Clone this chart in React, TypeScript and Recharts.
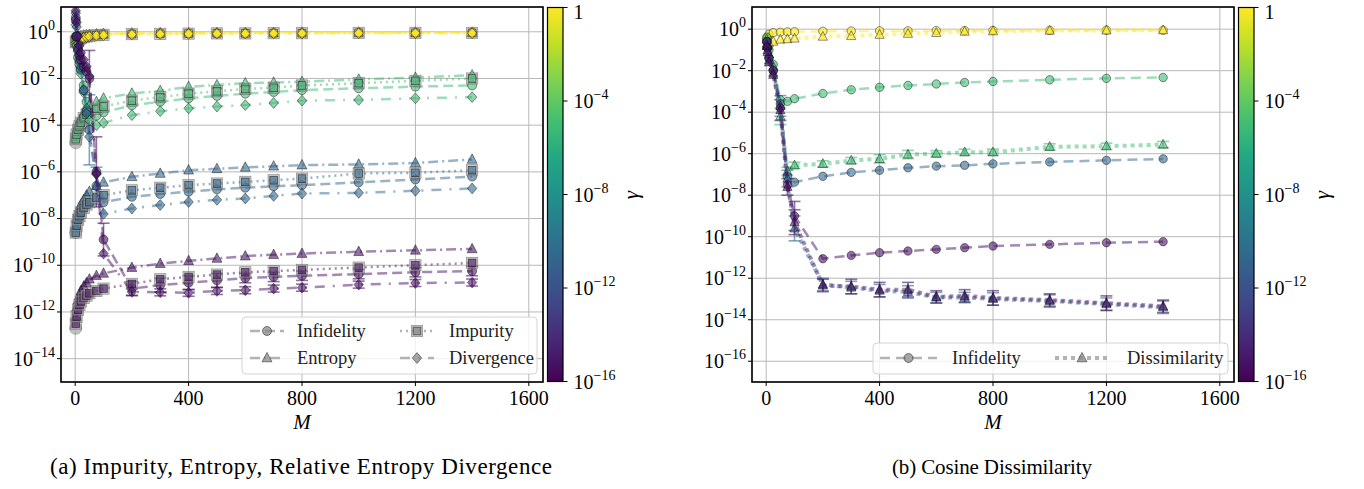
import React from 'react';
import { ComposedChart, Scatter, XAxis, YAxis, CartesianGrid, ErrorBar } from 'recharts';

const FONT = "'Liberation Serif', 'DejaVu Serif', serif";
const serif = { fontFamily: FONT };

// colour of each γ group (viridis on a 1e-16 … 1 log scale)
const gammaExp = [0, -5, -10, -15];
const groupColors = ['#fde725', '#3fbc73', '#31688e', '#471164'];

// ---------- panel (a): values are log10 ----------
const mLeft = [2, 5, 10, 15, 20, 30, 40, 50, 75, 100, 200, 300, 400, 500, 600, 700, 800, 1000, 1200, 1400];

const infA_0 = [-0.35, -0.3, -0.27, -0.24, -0.22, -0.19, -0.17, -0.15, -0.12, -0.1, -0.08, -0.07, -0.07, -0.06, -0.06, -0.05, -0.05, -0.04, -0.04, -0.03];
const entA_0 = [-0.3, -0.25, -0.22, -0.2, -0.18, -0.15, -0.13, -0.12, -0.1, -0.08, -0.06, -0.05, -0.05, -0.04, -0.04, -0.04, -0.03, -0.03, -0.03, -0.03];
const impA_0 = [-0.45, -0.4, -0.35, -0.3, -0.27, -0.23, -0.2, -0.18, -0.15, -0.13, -0.1, -0.09, -0.08, -0.07, -0.07, -0.06, -0.06, -0.05, -0.05, -0.05];
const divA_0 = [-0.5, -0.45, -0.4, -0.35, -0.3, -0.26, -0.23, -0.2, -0.17, -0.15, -0.12, -0.1, -0.09, -0.08, -0.08, -0.07, -0.07, -0.06, -0.06, -0.06];

const infA_1 = [-0.2, -0.6, -1.1, -1.4, -1.65, -2.3, -3.0, -3.5, -3.6, -3.45, -3.15, -3.0, -2.85, -2.75, -2.65, -2.58, -2.5, -2.42, -2.35, -2.3];
const entA_1 = [-4.4, -4.2, -4.0, -3.85, -3.7, -3.5, -3.3, -3.15, -3.0, -2.85, -2.64, -2.53, -2.36, -2.28, -2.2, -2.17, -2.14, -2.04, -1.96, -1.86];
const impA_1 = [-4.6, -4.4, -4.2, -4.05, -3.9, -3.7, -3.55, -3.45, -3.3, -3.2, -2.95, -2.8, -2.65, -2.55, -2.45, -2.4, -2.3, -2.2, -2.1, -2.0];
const divA_1 = [0.3, -0.2, -0.8, -1.3, -1.8, -2.6, -3.3, -3.8, -4.0, -3.9, -3.57, -3.4, -3.28, -3.2, -3.14, -3.05, -2.95, -2.92, -2.85, -2.8];

const infA_2 = [0.6, -0.2, -0.8, -1.2, -1.6, -2.5, -3.4, -4.2, -6.6, -7.3, -7.07, -6.95, -6.85, -6.75, -6.68, -6.62, -6.57, -6.45, -6.33, -6.2];
const entA_2 = [-8.3, -8.0, -7.75, -7.55, -7.4, -7.2, -7.0, -6.85, -6.6, -6.45, -6.21, -6.07, -5.93, -5.87, -5.81, -5.76, -5.71, -5.68, -5.62, -5.47];
const impA_2 = [-8.6, -8.3, -8.05, -7.9, -7.75, -7.55, -7.4, -7.3, -7.1, -7.0, -6.79, -6.68, -6.57, -6.5, -6.43, -6.36, -6.29, -6.07, -6.04, -5.93];
const divA_2 = [0.8, 0.2, -0.5, -1.0, -1.5, -2.5, -3.5, -4.5, -6.07, -7.8, -7.57, -7.42, -7.29, -7.2, -7.14, -7.03, -6.93, -6.9, -6.81, -6.71];

const infA_3 = [0.5, -0.2, -0.7, -1.0, -1.2, -1.5, -1.7, -2.0, -6.0, -8.9, -11.0, -10.85, -10.75, -10.65, -10.55, -10.5, -10.45, -10.38, -10.3, -10.25];
const entA_3 = [-12.2, -11.8, -11.5, -11.3, -11.1, -10.9, -10.75, -10.6, -10.45, -10.35, -10.1, -9.93, -9.81, -9.71, -9.61, -9.55, -9.5, -9.42, -9.36, -9.3];
const impA_3 = [-12.5, -12.2, -11.9, -11.7, -11.55, -11.4, -11.3, -11.2, -11.1, -11.0, -10.8, -10.6, -10.5, -10.4, -10.3, -10.25, -10.2, -10.1, -10.0, -9.9];
const divA_3 = [0.9, 0.4, -0.2, -0.6, -0.9, -1.2, -1.5, -1.9, -6.1, -9.5, -11.14, -11.16, -11.18, -11.1, -11.07, -11.0, -10.96, -10.83, -10.76, -10.74];

// grey markers sitting under the first points of the rising groups
const greyA_m = [2, 2, 2];
const greyA_v = [-4.75, -8.6, -12.7];

// error bar half widths, in decades
const errInfA_2 = [0, 0, 0, 0, 0, 0, 0, 1.5, 0.8, 0, 0, 0, 0, 0, 0, 0, 0, 0, 0, 0];
const errInfA_3 = [0, 0, 0, 0, 0, 0, 0, 1.2, 1.5, 0.7, 0.3, 0.3, 0.3, 0.3, 0.2, 0.2, 0.2, 0.2, 0.2, 0.2];
const errDivA_3 = [0, 0, 0, 0, 0, 0, 0, 0, 0, 0, 0.15, 0.15, 0.15, 0.15, 0.15, 0.15, 0.15, 0.15, 0.15, 0.15];

// ---------- panel (b): values are log10 ----------
const mRight = [2, 5, 10, 25, 50, 75, 100, 200, 300, 400, 500, 600, 700, 800, 1000, 1200, 1400];

const infB_0 = [-0.5, -0.36, -0.25, -0.17, -0.15, -0.13, -0.12, -0.1, -0.09, -0.08, -0.08, -0.07, -0.07, -0.06, -0.06, -0.05, -0.05];
const disB_0 = [-0.8, -0.7, -0.66, -0.6, -0.5, -0.48, -0.45, -0.36, -0.33, -0.27, -0.22, -0.18, -0.12, -0.1, -0.07, -0.06, -0.05];
const infB_1 = [-0.4, -0.6, -1.0, -1.7, -3.4, -3.48, -3.35, -3.1, -2.92, -2.8, -2.71, -2.64, -2.57, -2.52, -2.44, -2.37, -2.33];
const disB_1 = [-0.5, -0.8, -1.2, -1.8, -4.2, -6.85, -6.56, -6.49, -6.33, -6.25, -6.04, -6.0, -5.93, -5.93, -5.67, -5.64, -5.56];
const infB_2 = [-0.6, -0.9, -1.4, -2.0, -3.6, -7.1, -7.37, -7.09, -6.9, -6.8, -6.68, -6.6, -6.56, -6.49, -6.4, -6.32, -6.25];
const disB_2 = [-0.7, -1.0, -1.5, -2.1, -3.7, -7.2, -9.6, -12.3, -12.45, -12.6, -12.66, -12.93, -12.93, -13.0, -13.1, -13.25, -13.4];
const infB_3 = [-0.6, -0.9, -1.4, -2.0, -3.8, -7.5, -9.0, -11.06, -10.9, -10.77, -10.69, -10.61, -10.53, -10.45, -10.37, -10.29, -10.24];
const disB_3 = [-0.8, -1.1, -1.6, -2.2, -3.9, -7.6, -9.3, -12.35, -12.4, -12.55, -12.55, -12.9, -12.85, -12.95, -13.05, -13.2, -13.35];

const errDisB_1 = [0, 0, 0, 0, 0.4, 0.2, 0.15, 0.15, 0.15, 0.2, 0.2, 0.15, 0.15, 0.15, 0.15, 0.15, 0.15];
const errDisB_2 = [0, 0, 0, 0, 0.5, 0.4, 0.6, 0.3, 0.3, 0.3, 0.3, 0.25, 0.25, 0.3, 0.3, 0.3, 0.3];
const errDisB_3 = [0, 0, 0, 0, 0.5, 0.4, 0.6, 0.3, 0.35, 0.35, 0.35, 0.3, 0.3, 0.35, 0.3, 0.35, 0.3];
const errInfB_3 = [0, 0, 0, 0, 0, 0, 0.7, 0, 0, 0, 0, 0, 0, 0, 0, 0, 0];

const yTicksA = [1e-14, 1e-12, 1e-10, 1e-8, 1e-6, 1e-4, 1e-2, 1];
const yTicksB = [1e-16, 1e-14, 1e-12, 1e-10, 1e-8, 1e-6, 1e-4, 1e-2, 1];
const xTicks = [0, 400, 800, 1200, 1600];
const cbarTicks = [0, -4, -8, -12, -16];

type Kind = 'circle' | 'triangle' | 'square' | 'diamond' | 'grey';

const toPoints = (ms: number[], exps: number[], errs?: number[]) =>
  ms.map((m, i) => {
    const y = Math.pow(10, exps[i]);
    const e = errs ? errs[i] : 0;
    return {
      x: m,
      y,
      err: e ? [y - Math.pow(10, exps[i] - e), Math.pow(10, exps[i] + e) - y] : undefined,
    };
  });

const markerEl = (kind: Kind, cx: number, cy: number, color: string, s: number, legend = false) => {
  const st = {
    fill: color,
    fillOpacity: legend ? 0.75 : 0.6,
    stroke: '#000',
    strokeOpacity: 0.55,
    strokeWidth: 0.8,
  };
  if (kind === 'grey') return <circle cx={cx} cy={cy} r={s * 1.35} fill="#a8a8a8" fillOpacity={0.7} stroke="#777" strokeOpacity={0.6} strokeWidth={0.8} />;
  if (kind === 'circle') return <circle cx={cx} cy={cy} r={s} {...st} />;
  if (kind === 'triangle')
    return <polygon points={`${cx},${cy - s * 1.25} ${cx - s * 1.1},${cy + s * 0.85} ${cx + s * 1.1},${cy + s * 0.85}`} {...st} />;
  if (kind === 'diamond')
    return <polygon points={`${cx},${cy - s * 1.2} ${cx + s * 1.05},${cy} ${cx},${cy + s * 1.2} ${cx - s * 1.05},${cy}`} {...st} />;
  return (
    <g>
      <rect x={cx - s * 1.25} y={cy - s * 1.25} width={s * 2.5} height={s * 2.5} fill="#9a9a9a" fillOpacity={0.55} stroke="#666" strokeOpacity={0.6} strokeWidth={0.8} />
      <rect x={cx - s * 0.85} y={cy - s * 0.85} width={s * 1.7} height={s * 1.7} {...st} />
    </g>
  );
};

const makeShape = (kind: Kind, color: string, s: number) => (p: any) => {
  if (p.cx == null || p.cy == null) return <g />;
  return markerEl(kind, p.cx, p.cy, color, s);
};

type Series = { key: string; kind: Kind; color: string; dash: string; width: number; size: number; data: any[]; noLine?: boolean };

const metricsA: { kind: Kind; dash: string; vals: number[][]; errs: (number[] | undefined)[] }[] = [
  { kind: 'circle', dash: '10 5', vals: [infA_0, infA_1, infA_2, infA_3], errs: [undefined, undefined, errInfA_2, errInfA_3] },
  { kind: 'triangle', dash: '10 4 2 4', vals: [entA_0, entA_1, entA_2, entA_3], errs: [] },
  { kind: 'square', dash: '2 4', vals: [impA_0, impA_1, impA_2, impA_3], errs: [] },
  { kind: 'diamond', dash: '10 8 2 8', vals: [divA_0, divA_1, divA_2, divA_3], errs: [undefined, undefined, undefined, errDivA_3] },
];

const metricsB: { kind: Kind; dash: string; width: number; vals: number[][]; errs: (number[] | undefined)[] }[] = [
  { kind: 'circle', dash: '10 6', width: 2.5, vals: [infB_0, infB_1, infB_2, infB_3], errs: [undefined, undefined, undefined, errInfB_3] },
  { kind: 'triangle', dash: '4 4', width: 4, vals: [disB_0, disB_1, disB_2, disB_3], errs: [undefined, errDisB_1, errDisB_2, errDisB_3] },
];

const seriesA: Series[] = [
  { key: 'a-grey', kind: 'grey', color: '#a8a8a8', dash: '', width: 0, size: 4.5, data: toPoints(greyA_m, greyA_v), noLine: true },
];
gammaExp.forEach((_, g) =>
  metricsA.forEach((m, k) =>
    seriesA.push({
      key: `a-${g}-${k}`,
      kind: m.kind,
      color: groupColors[g],
      dash: m.dash,
      width: 2.5,
      size: 4.5,
      data: toPoints(mLeft, m.vals[g], m.errs[g]),
    })
  )
);

const seriesB: Series[] = [];
gammaExp.forEach((_, g) =>
  metricsB.forEach((m, k) =>
    seriesB.push({
      key: `b-${g}-${k}`,
      kind: m.kind,
      color: groupColors[g],
      dash: m.dash,
      width: m.width,
      size: 4.2,
      data: toPoints(mRight, m.vals[g], m.errs[g]),
    })
  )
);

const supText = (e: number) => (e < 0 ? `\u2212${-e}` : `${e}`);

const YTick = (props: any) => {
  const { x, y, payload } = props;
  const e = Math.round(Math.log10(payload.value));
  return (
    <text x={x} y={y + 7} textAnchor="end" style={serif} fontSize={20} fill="#000">
      10
      <tspan dy={-9} fontSize={14}>
        {supText(e)}
      </tspan>
    </text>
  );
};

const XTick = (props: any) => {
  const { x, y, payload } = props;
  return (
    <text x={x} y={y + 17} textAnchor="middle" style={serif} fontSize={20} fill="#000">
      {payload.value}
    </text>
  );
};

const Panel = ({ series, domain, ticks }: { series: Series[]; domain: [number, number]; ticks: number[] }) => (
  <ComposedChart width={560} height={440} margin={{ top: 7, right: 17, bottom: 0, left: 6 }}>
    <CartesianGrid stroke="#b8b8b8" strokeWidth={1} />
    <XAxis
      type="number"
      dataKey="x"
      domain={[-50, 1650]}
      ticks={xTicks}
      allowDataOverflow
      axisLine={false}
      tickLine={{ stroke: '#000', strokeWidth: 1 }}
      tickSize={4}
      tick={<XTick />}
      height={58}
    />
    <YAxis
      type="number"
      dataKey="y"
      scale="log"
      domain={domain}
      ticks={ticks}
      allowDataOverflow
      axisLine={false}
      tickLine={{ stroke: '#000', strokeWidth: 1 }}
      tickSize={4}
      tick={<YTick />}
      width={55}
    />
    {series.map((s) => (
      <Scatter
        key={s.key}
        data={s.data}
        isAnimationActive={false}
        line={s.noLine ? false : { stroke: s.color, strokeWidth: s.width, strokeOpacity: 0.5, strokeDasharray: s.dash }}
        shape={makeShape(s.kind, s.color, s.size)}
      >
        <ErrorBar dataKey="err" direction="y" width={6} stroke={s.color} strokeOpacity={0.6} strokeWidth={1.6} />
      </Scatter>
    ))}
  </ComposedChart>
);

const viridis = ['#440154', '#482475', '#414487', '#355f8d', '#2a788e', '#21918c', '#22a884', '#44bf70', '#7ad151', '#bddf26', '#fde725'];

const Colorbar = ({ x, id }: { x: number; id: string }) => {
  const top = 7.5;
  const h = 374;
  return (
    <g>
      <defs>
        <linearGradient id={id} x1="0" y1="1" x2="0" y2="0">
          {viridis.map((c, i) => (
            <stop key={i} offset={i / (viridis.length - 1)} stopColor={c} />
          ))}
        </linearGradient>
      </defs>
      <rect x={x} y={top} width={15.5} height={h} fill={`url(#${id})`} stroke="#000" strokeWidth={1.2} />
      {cbarTicks.map((e) => {
        const ty = top + (-e / 16) * h;
        return (
          <g key={e}>
            <line x1={x + 15.5} x2={x + 20} y1={ty} y2={ty} stroke="#000" strokeWidth={1} />
            <text x={x + 26} y={e === 0 ? ty + 11 : ty + 7} style={serif} fontSize={20} fill="#000">
              {e === 0 ? (
                '1'
              ) : (
                <>
                  10
                  <tspan dy={-9} fontSize={14}>
                    {supText(e)}
                  </tspan>
                </>
              )}
            </text>
          </g>
        );
      })}
      <text
        x={x + 90}
        y={195}
        transform={`rotate(-90 ${x + 90} 195)`}
        textAnchor="middle"
        style={serif}
        fontStyle="italic"
        fontSize={21}
        fill="#000"
      >
        γ
      </text>
    </g>
  );
};

const legendGrey = '#a0a0a0';

const LegendItem = ({ x, y, kind, dash, width, label, len, textX }: any) => (
  <g>
    <line x1={x} x2={x + len} y1={y} y2={y} stroke={legendGrey} strokeOpacity={0.8} strokeWidth={width} strokeDasharray={dash} />
    {markerEl(kind, x + len / 2, y, '#888', 4.5, true)}
    <text x={textX} y={y + 6} style={serif} fontSize={18.5} fill="#222">
      {label}
    </text>
  </g>
);

export default function App() {
  return (
    <div style={{ position: 'absolute', left: 0, top: 0, width: 1364, height: 489, background: '#fff', overflow: 'hidden', fontFamily: FONT }}>
      <div style={{ position: 'absolute', left: 0, top: 0 }}>
        <Panel series={seriesA} domain={[1e-15, 11.5]} ticks={yTicksA} />
      </div>
      <div style={{ position: 'absolute', left: 691, top: 0 }}>
        <Panel series={seriesB} domain={[1e-17, 11.7]} ticks={yTicksB} />
      </div>
      <svg width={1364} height={489} style={{ position: 'absolute', left: 0, top: 0, pointerEvents: 'none' }}>
        {/* axes frames */}
        <rect x={61} y={7} width={482} height={375} fill="none" stroke="#000" strokeWidth={1.6} />
        <rect x={752} y={7} width={482} height={375} fill="none" stroke="#000" strokeWidth={1.6} />

        {/* legend (a) */}
        <rect x={242} y={317} width={295} height={57} rx={4} fill="#fff" fillOpacity={0.8} stroke="#d4d4d4" />
        <LegendItem x={250} y={331} kind="circle" dash="10 5" width={2.5} label="Infidelity" len={34} textX={297} />
        <LegendItem x={250} y={358} kind="triangle" dash="10 4 2 4" width={2.5} label="Entropy" len={34} textX={297} />
        <LegendItem x={400} y={331} kind="square" dash="2 4" width={2.5} label="Impurity" len={34} textX={449} />
        <LegendItem x={400} y={358} kind="diamond" dash="10 8 2 8" width={2.5} label="Divergence" len={34} textX={449} />

        {/* legend (b) */}
        <rect x={873} y={343} width={355} height={31} rx={4} fill="#fff" fillOpacity={0.8} stroke="#d4d4d4" />
        <LegendItem x={880} y={358} kind="circle" dash="10 6" width={2.5} label="Infidelity" len={57} textX={952} />
        <LegendItem x={1055} y={358} kind="triangle" dash="4 4" width={4} label="Dissimilarity" len={54} textX={1127} />

        <Colorbar x={547.5} id="vir-a" />
        <Colorbar x={1238.5} id="vir-b" />

        <text x={302} y={429} textAnchor="middle" style={serif} fontStyle="italic" fontSize={21}>
          M
        </text>
        <text x={993} y={429} textAnchor="middle" style={serif} fontStyle="italic" fontSize={21}>
          M
        </text>

        <text x={301} y={474} textAnchor="middle" style={serif} fontSize={23} textLength={502} lengthAdjust="spacing">
          (a) Impurity, Entropy, Relative Entropy Divergence
        </text>
        <text x={992} y={474} textAnchor="middle" style={serif} fontSize={21} textLength={200} lengthAdjust="spacing">
          (b) Cosine Dissimilarity
        </text>
      </svg>
    </div>
  );
}
